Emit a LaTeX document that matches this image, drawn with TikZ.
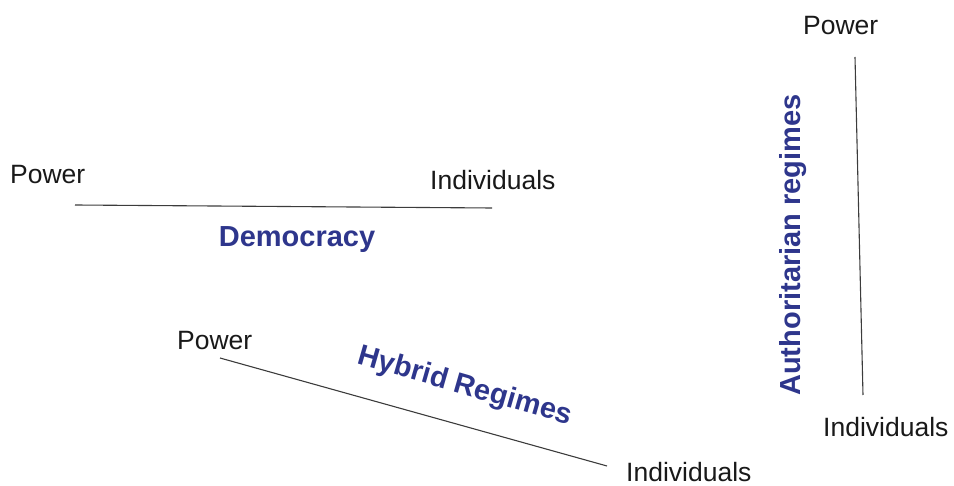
\documentclass[tikz,border=0pt]{standalone}
\usepackage{fontspec}
\setmainfont{Liberation Sans}
\definecolor{regblue}{RGB}{46,54,140}
\definecolor{linegray}{RGB}{60,60,60}
\begin{document}
\begin{tikzpicture}[x=1pt,y=-1pt,
  lbl/.style={inner sep=0pt,font=\fontsize{26.5}{30}\selectfont,text=black!90},
  reg/.style={inner sep=0pt,font=\fontsize{29}{34}\selectfont\bfseries,text=regblue},
  axis/.style={draw=linegray,line width=1.1pt}]
\useasboundingbox (0,0) rectangle (954,486);
% Democracy
\node[lbl,anchor=base west] (dp) at (10,184) {Power};
\node[lbl,anchor=base west] (di) at (430,190) {Individuals};
\coordinate (d1) at (75,205);
\coordinate (d2) at (492,208);
\draw[axis] (d1) -- (d2);
\node[reg] (dem) at (297,240) {Democracy};
% Hybrid
\node[lbl,anchor=base west] (hp) at (177,350) {Power};
\node[lbl,anchor=base west] (hi) at (626,482) {Individuals};
\coordinate (h1) at (220,358);
\coordinate (h2) at (607,466);
\draw[axis] (h1) -- (h2);
\node[reg,rotate=-16] (hyb) at (465,387) {Hybrid Regimes};
% Authoritarian
\node[lbl,anchor=base west] (ap) at (803,35) {Power};
\node[lbl,anchor=base west] (ai) at (823,437) {Individuals};
\coordinate (a1) at (855,57);
\coordinate (a2) at (863,395);
\draw[axis] (a1) -- (a2);
\node[reg,rotate=90] (aut) at (793,245) {Authoritarian regimes};
\end{tikzpicture}
\end{document}
